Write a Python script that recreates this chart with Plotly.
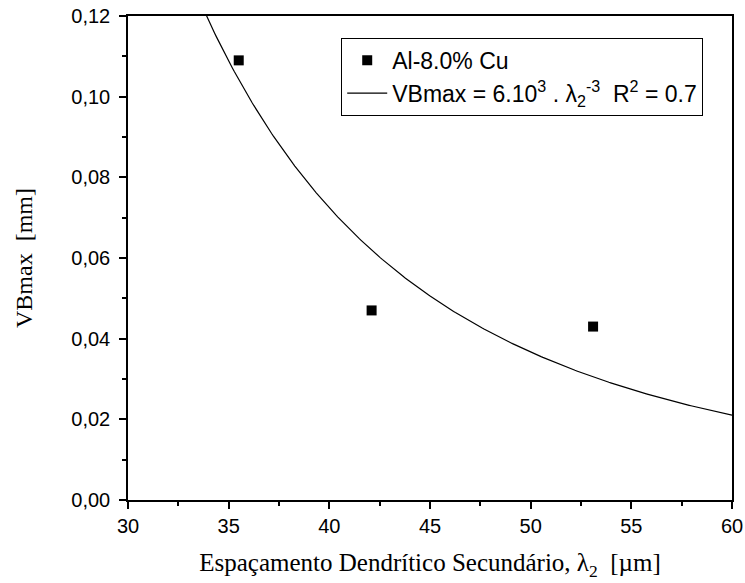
import numpy as np
import plotly.graph_objects as go

# Experimental data
lambda2 = [35.5, 42.1, 53.1]
vbmax = [0.109, 0.047, 0.043]

# Power-law fit parameters
fit_a = 5575.0
fit_b = -3.05
fit_x_range = [33.5, 60.0]

x_ticks = [30, 35, 40, 45, 50, 55, 60]
y_ticks = [0.00, 0.02, 0.04, 0.06, 0.08, 0.10, 0.12]

xf = np.linspace(fit_x_range[0], fit_x_range[1], 300)
yf = fit_a * xf ** fit_b

fig = go.Figure()
fig.add_trace(go.Scatter(
    x=lambda2, y=vbmax, mode="markers", name="Al-8.0% Cu",
    marker=dict(symbol="square", size=10, color="black"),
))
fig.add_trace(go.Scatter(
    x=xf, y=yf, mode="lines",
    name="VBmax = 6.10<sup>3</sup> . λ<sub>2</sub><sup>-3</sup>&nbsp;&nbsp;R<sup>2</sup> = 0.7",
    line=dict(color="black", width=1.2),
))

axis_common = dict(
    showline=True, linecolor="black", linewidth=1.5, mirror=True,
    ticks="outside", ticklen=7, tickwidth=1.5, tickcolor="black",
    showgrid=False, zeroline=False, ticklabeloverflow="allow",
    tickfont=dict(family="Liberation Sans, Arial", size=20, color="black"),
)

fig.update_xaxes(
    range=[30, 60], tickvals=x_ticks, ticktext=[str(v) for v in x_ticks],
    minor=dict(ticks="outside", ticklen=4, tickwidth=1.5, tickcolor="black", dtick=2.5),
    title=dict(text="Espaçamento Dendrítico Secundário, λ<sub>2</sub>&nbsp;&nbsp;[µm]",
               font=dict(family="Liberation Serif, Times New Roman", size=25, color="black"),
               standoff=18),
    **axis_common,
)
fig.update_yaxes(
    range=[0, 0.12], tickvals=y_ticks, ticktext=[f"{v:.2f}".replace(".", ",") for v in y_ticks],
    minor=dict(ticks="outside", ticklen=4, tickwidth=1.5, tickcolor="black", dtick=0.01),
    ticklabelstandoff=5,
    title=dict(text="VBmax&nbsp;&nbsp;[mm]",
               font=dict(family="Liberation Serif, Times New Roman", size=24, color="black"),
               standoff=32),
    **axis_common,
)

fig.update_layout(
    width=745, height=583,
    margin=dict(l=128, r=13, t=16, b=83, autoexpand=False),
    plot_bgcolor="white", paper_bgcolor="white",
    showlegend=True,
    legend=dict(
        x=0.353, y=0.955, xanchor="left", yanchor="top",
        bordercolor="black", borderwidth=1, bgcolor="white",
        font=dict(family="Liberation Sans, Arial", size=23, color="black"),
        tracegroupgap=0, itemwidth=40,
    ),
)

fig.write_html("out.html")
